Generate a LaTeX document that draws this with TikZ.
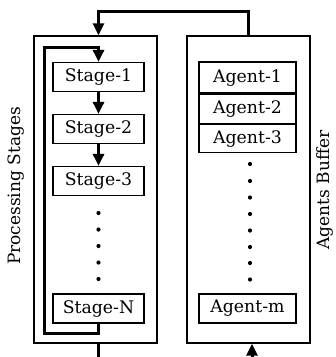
\documentclass[tikz,border=0pt]{standalone}
\usepackage{fontspec}
\setmainfont{DejaVu Serif}
\usetikzlibrary{arrows.meta,positioning}
\tikzset{
  outerbox/.style={draw,line width=1.4pt,minimum width=123pt,minimum height=307pt,inner sep=0pt},
  stagebox/.style={draw,line width=1.3pt,minimum width=91pt,minimum height=29pt,inner sep=0pt,font=\fontsize{17.3}{19}\selectfont},
  agentbox/.style={draw,line width=1.3pt,minimum width=97pt,inner sep=0pt,font=\fontsize{17.3}{19}\selectfont},
  flow/.style={line width=3pt},
  flowarrow/.style={line width=3pt,-{Triangle[width=11pt,length=12pt]}},
  lab/.style={rotate=90,font=\fontsize{17}{19}\selectfont},
  dot/.style={circle,fill,inner sep=0pt,minimum size=4.2pt}
}
\begin{document}
\begin{tikzpicture}[x=1pt,y=-1pt]
\useasboundingbox (0,0) rectangle (336,357);
% outer boxes
\node[outerbox] (proc) at (95.5,189.5) {};
\node[outerbox] (buf) at (248.5,189.5) {};
% labels
\node[lab] (plab) at (16,186) {Processing Stages};
\node[lab] (blab) at (325,190) {Agents Buffer};
% stages
\node[stagebox] (s1) at (98.5,77) {Stage-1};
\node[stagebox] (s2) at (98.5,129) {Stage-2};
\node[stagebox] (s3) at (98.5,181) {Stage-3};
\node[stagebox] (sN) at (98.5,308.5) {Stage-N};
\foreach \y [count=\i] in {213,229.5,246,262.5,279} \node[dot] (sd\i) at (98.5,\y) {};
% agents
\node[agentbox,minimum height=31pt] (a1) at (247.5,77.5) {Agent-1};
\node[agentbox,minimum height=29pt,anchor=north] (a2) at (a1.south) {Agent-2};
\node[agentbox,minimum height=28pt,anchor=north] (a3) at (a2.south) {Agent-3};
\node[agentbox,minimum height=29pt] (am) at (247.5,308.5) {Agent-m};
\foreach \y [count=\i] in {164,181,197.5,214,230.5,247,263,279.5} \node[dot] (ad\i) at (250,\y) {};
% connectors
\coordinate (top) at (0,11);
\coordinate (lb) at (44,333);
\coordinate (lt) at (44,47);
\coordinate (bot) at (0,360);
\coordinate (bin) at (252,360);
\draw[flowarrow] (buf.north) |- (top -| s1.north) -- (s1.north |- proc.north);
\draw[flowarrow] (sN.south) |- (lb) -- (lt) -| (s1.north);
\draw[flowarrow] (s1.south) -- (s2.north);
\draw[flowarrow] (s2.south) -- (s3.north);
\draw[flow] (s1.south |- proc.south) -- (s1.south |- bot);
\draw[flowarrow] (bin) -- (bin |- buf.south);
\end{tikzpicture}
\end{document}
